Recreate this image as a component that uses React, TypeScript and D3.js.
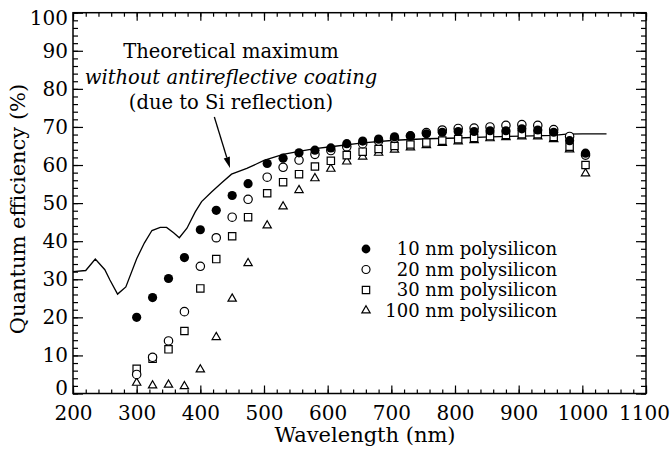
import React, { useEffect, useRef } from "react";
import * as d3 from "d3";

// measured wavelengths (nm) of the four sample series
const wavelengths = [
  300, 325, 350, 375, 400, 425, 450, 475, 505, 530, 555, 580, 605, 630, 655,
  680, 705, 730, 755, 780, 805, 830, 855, 880, 905, 930, 955, 980, 1005,
];
const qe10 = [
  20.0, 25.2, 30.2, 35.7, 43.0, 48.1, 52.0, 55.1, 60.4, 61.8, 63.2, 63.9, 64.5,
  65.6, 66.3, 66.8, 67.4, 67.7, 68.2, 68.6, 68.8, 68.8, 69.0, 69.0, 69.5, 69.2,
  68.6, 66.4, 63.1,
];
const qe20 = [
  5.0, 9.5, 13.8, 21.5, 33.4, 40.9, 46.3, 51.0, 56.8, 59.4, 61.3, 62.8, 63.8,
  64.8, 65.6, 66.3, 67.0, 67.6, 68.5, 69.2, 69.6, 69.7, 70.0, 70.4, 70.6, 70.4,
  69.3, 67.5, 62.6,
];
const qe30 = [
  6.5, 9.1, 11.6, 16.4, 27.6, 35.3, 41.3, 46.3, 52.6, 55.5, 57.6, 59.6, 61.1,
  62.6, 63.5, 64.2, 65.0, 65.4, 65.9, 66.4, 66.8, 67.1, 67.6, 67.9, 68.1, 68.1,
  67.4, 64.8, 60.0,
];
const qe100 = [
  2.8, 2.1, 2.3, 1.9, 6.3, 14.8, 24.9, 34.2, 44.1, 49.1, 53.4, 56.5, 59.0,
  60.9, 62.2, 63.2, 64.0, 64.6, 65.2, 65.8, 66.2, 66.5, 67.0, 67.3, 67.5, 67.5,
  66.8, 64.1, 57.8,
];

// theoretical maximum (no AR coating)
const theoryWl = [
  200, 220, 235, 250, 258, 270, 283, 300, 312, 324, 337, 347, 358, 367, 379,
  392, 402, 418, 434, 449, 473, 500, 530, 555, 580, 605, 655, 705, 755, 805,
  855, 905, 955, 975, 1000, 1038,
];
const theoryQe = [
  32.0, 32.3, 35.3, 32.5, 29.8, 26.1, 28.0, 35.4, 39.5, 42.8, 43.6, 43.6, 42.2,
  40.9, 43.4, 47.7, 50.4, 53.0, 55.4, 57.6, 59.1, 61.2, 62.8, 63.6, 64.3, 64.8,
  65.8, 66.5, 66.9, 67.1, 67.4, 67.6, 67.8, 68.1, 68.2, 68.2,
];

const xTicks = [200, 300, 400, 500, 600, 700, 800, 900, 1000, 1100];
const yTicks = [0, 10, 20, 30, 40, 50, 60, 70, 80, 90, 100];
const legendLabels = [
  "10 nm polysilicon",
  "20 nm polysilicon",
  "30 nm polysilicon",
  "100 nm polysilicon",
];
const noteLines = [
  "Theoretical maximum",
  "without antireflective coating",
  "(due to Si reflection)",
];

const W = 670;
const H = 451;
const FONT = '"DejaVu Serif", "Liberation Serif", serif';

const App = () => {
  const ref = useRef<SVGSVGElement | null>(null);

  useEffect(() => {
    if (!ref.current) return;
    const svg = d3.select(ref.current);
    svg.selectAll("*").remove();

    const left = 73;
    const right = 646;
    const top = 12.7;
    const bottom = 393.5;

    const x = d3.scaleLinear().domain([200, 1100]).range([left, right]);
    const y = d3.scaleLinear().domain([0, 100]).range([bottom, top]);

    const minorX = d3.range(200, 1101, 20);
    const minorY = d3.range(0, 101, 2);

    const style = (g: any) => {
      g.select(".domain").remove();
      g.selectAll(".tick line").attr("stroke", "#000").attr("stroke-width", 1.2);
      g.attr("font-family", null).attr("font-size", null)
        .style("font-family", FONT).style("font-size", "20px");
      g.selectAll("text").attr("fill", "#000");
    };

    // bottom
    svg.append("g").attr("transform", `translate(0,${bottom})`)
      .call(d3.axisBottom(x).tickValues(minorX).tickSize(-4).tickFormat(() => ""))
      .call(style);
    const xl = svg.append("g").attr("transform", `translate(0,${bottom})`)
      .call(d3.axisBottom(x).tickValues(xTicks).tickSize(-8).tickPadding(12).tickFormat(d3.format("d")))
      .call(style);
    xl.selectAll(".tick text")
      .attr("transform", (d: any) => (d === 1100 ? "translate(-2,0)" : null));
    // top
    svg.append("g").attr("transform", `translate(0,${top})`)
      .call(d3.axisTop(x).tickValues(minorX).tickSize(-4).tickFormat(() => ""))
      .call(style);
    svg.append("g").attr("transform", `translate(0,${top})`)
      .call(d3.axisTop(x).tickValues(xTicks).tickSize(-8).tickFormat(() => ""))
      .call(style);
    // left
    svg.append("g").attr("transform", `translate(${left},0)`)
      .call(d3.axisLeft(y).tickValues(minorY).tickSize(-5).tickFormat(() => ""))
      .call(style);
    const yl = svg.append("g").attr("transform", `translate(${left},0)`)
      .call(d3.axisLeft(y).tickValues(yTicks).tickSize(-10).tickPadding(5).tickFormat(d3.format("d")))
      .call(style);
    yl.selectAll(".tick text")
      .attr("transform", (d: any) => (d === 100 ? "translate(0,5)" : d === 0 ? "translate(0,-5)" : null));
    // right
    svg.append("g").attr("transform", `translate(${right},0)`)
      .call(d3.axisRight(y).tickValues(minorY).tickSize(-5).tickFormat(() => ""))
      .call(style);
    svg.append("g").attr("transform", `translate(${right},0)`)
      .call(d3.axisRight(y).tickValues(yTicks).tickSize(-10).tickFormat(() => ""))
      .call(style);

    // frame
    svg.append("rect")
      .attr("x", left).attr("y", top)
      .attr("width", right - left).attr("height", bottom - top)
      .attr("fill", "none").attr("stroke", "#000").attr("stroke-width", 1.5);

    // theoretical line
    const line = d3.line<number>()
      .x((d, i) => x(theoryWl[i]))
      .y((d) => y(d));
    svg.append("path")
      .attr("d", line(theoryQe))
      .attr("fill", "none").attr("stroke", "#000").attr("stroke-width", 1.3);

    const tri = d3.symbol().type(d3.symbolTriangle).size(30)()!;
    const sq = d3.symbol().type(d3.symbolSquare).size(54)()!;

    const markers = svg.append("g");
    markers.selectAll(".t").data(qe100).enter().append("path")
      .attr("d", tri)
      .attr("transform", (d, i) => `translate(${x(wavelengths[i])},${y(d)})`)
      .attr("fill", "#fff").attr("stroke", "#000").attr("stroke-width", 1.2);
    markers.selectAll(".s").data(qe30).enter().append("path")
      .attr("d", sq)
      .attr("transform", (d, i) => `translate(${x(wavelengths[i])},${y(d)})`)
      .attr("fill", "#fff").attr("stroke", "#000").attr("stroke-width", 1.2);
    markers.selectAll(".o").data(qe20).enter().append("circle")
      .attr("cx", (d, i) => x(wavelengths[i])).attr("cy", (d) => y(d)).attr("r", 4.2)
      .attr("fill", "#fff").attr("stroke", "#000").attr("stroke-width", 1.2);
    markers.selectAll(".f").data(qe10).enter().append("circle")
      .attr("cx", (d, i) => x(wavelengths[i])).attr("cy", (d) => y(d)).attr("r", 4.6)
      .attr("fill", "#000");

    // legend
    const lg = svg.append("g").style("font-family", FONT).style("font-size", "18px");
    const rowY = (i: number) => 249 + i * 20.5;
    legendLabels.forEach((lab, i) => {
      const cy = rowY(i);
      if (i === 0) lg.append("circle").attr("cx", 366).attr("cy", cy).attr("r", 4.4).attr("fill", "#000");
      if (i === 1) lg.append("circle").attr("cx", 366).attr("cy", cy).attr("r", 4).attr("fill", "#fff").attr("stroke", "#000").attr("stroke-width", 1.2);
      if (i === 2) lg.append("path").attr("d", sq).attr("transform", `translate(366,${cy})`).attr("fill", "#fff").attr("stroke", "#000").attr("stroke-width", 1.2);
      if (i === 3) lg.append("path").attr("d", tri).attr("transform", `translate(366,${cy})`).attr("fill", "#fff").attr("stroke", "#000").attr("stroke-width", 1.2);
      lg.append("text").attr("x", 557).attr("y", cy + 6).attr("text-anchor", "end").attr("fill", "#000").text(lab);
    });

    // annotation
    const note = svg.append("g").style("font-family", FONT).style("font-size", "19.5px").attr("text-anchor", "middle");
    noteLines.forEach((t, i) => {
      note.append("text")
        .attr("x", 231).attr("y", 58 + i * 25.5)
        .style("font-style", i === 1 ? "italic" : "normal")
        .attr("fill", "#000").text(t);
    });
    const x1 = x(422), y1 = y(72.6), x2 = x(446.6), y2 = y(59.2);
    const ang = Math.atan2(y2 - y1, x2 - x1);
    const hl = 11, hw = 3.2;
    const bx = x2 - hl * Math.cos(ang), by = y2 - hl * Math.sin(ang);
    svg.append("line").attr("x1", x1).attr("y1", y1).attr("x2", bx).attr("y2", by)
      .attr("stroke", "#000").attr("stroke-width", 1.3);
    svg.append("path")
      .attr("d", `M${x2},${y2}L${bx - hw * Math.sin(ang)},${by + hw * Math.cos(ang)}L${bx + hw * Math.sin(ang)},${by - hw * Math.cos(ang)}Z`)
      .attr("fill", "#000");

    // axis titles
    svg.append("text")
      .attr("x", 365).attr("y", 442).attr("text-anchor", "middle")
      .style("font-family", FONT).style("font-size", "21px").attr("fill", "#000")
      .text("Wavelength (nm)");
    svg.append("text")
      .attr("transform", "translate(25,209) rotate(-90)").attr("text-anchor", "middle")
      .style("font-family", FONT).style("font-size", "21px").attr("fill", "#000")
      .text("Quantum efficiency (%)");
  }, []);

  return (
    <svg
      ref={ref}
      width={W}
      height={H}
      style={{ position: "absolute", left: 0, top: 0, background: "#fff", fontFamily: FONT }}
    />
  );
};

export default App;
